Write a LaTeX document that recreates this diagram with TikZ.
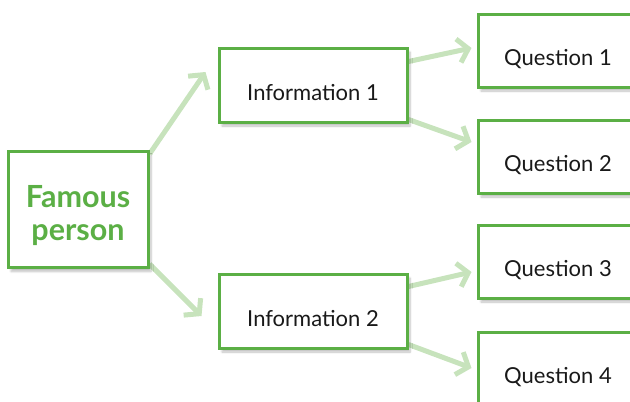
\documentclass[tikz,border=0pt]{standalone}
\usepackage{fontspec}
\setmainfont{Lato}
\usetikzlibrary{calc,arrows.meta,shadows.blur,backgrounds}
\definecolor{boxgreen}{HTML}{5BAF45}
\definecolor{arrowgreen}{HTML}{C7E3BC}

\begin{document}
\begin{tikzpicture}[x=1pt, y=-1pt,
    box/.style={draw=boxgreen, line width=3pt, fill=white, inner sep=0pt,
        blur shadow={shadow xshift=3pt, shadow yshift=-4pt, shadow blur steps=6, shadow opacity=25},
        font=\fontsize{22}{26}\selectfont, text=black!90, text height=30pt, text depth=0pt},
    infobox/.style={box, minimum width=188, minimum height=74},
    qbox/.style={box, minimum width=160, minimum height=73},
    link/.style={arrowgreen, line width=5pt, -{Straight Barb[length=10pt, width=24pt, line width=5pt]}}]
    \useasboundingbox (0,0) rectangle (630,402);
    % boxes
    \node[box, minimum width=140, minimum height=116, align=center, text=boxgreen,
        text height=61pt, text depth=0pt,
        font=\fontsize{30.5}{33}\selectfont\bfseries] (person) at (78,209.5) {Famous\\person};
    \node[infobox] (info1) at (313,85) {Information 1};
    \node[infobox] (info2) at (313,311) {Information 2};
    \node[qbox] (q1) at (558,50.5) {Question 1};
    \node[qbox] (q2) at (558,156.5) {Question 2};
    \node[qbox] (q3) at (558,261.5) {Question 3};
    \node[qbox] (q4) at (558,368.5) {Question 4};
    % arrows
    \begin{scope}[on background layer]
        \draw[link] ($(person.north east)+(0,4)$) -- ($(info1.west)+(-12,-13)$);
        \draw[link] ($(person.south east)+(0,-5)$) -- ($(info2.west)+(-16,5)$);
        \draw[link] ($(info1.north east)+(0,15)$) -- ($(q1.west)+(-5,-2.5)$);
        \draw[link] ($(info1.south east)+(0,-4)$) -- ($(q2.west)+(-5,-14.5)$);
        \draw[link] ($(info2.north east)+(0,14)$) -- ($(q3.west)+(-5,10.5)$);
        \draw[link] ($(info2.south east)+(0,-5)$) -- ($(q4.west)+(-5,-0.5)$);
    \end{scope}
\end{tikzpicture}
\end{document}
